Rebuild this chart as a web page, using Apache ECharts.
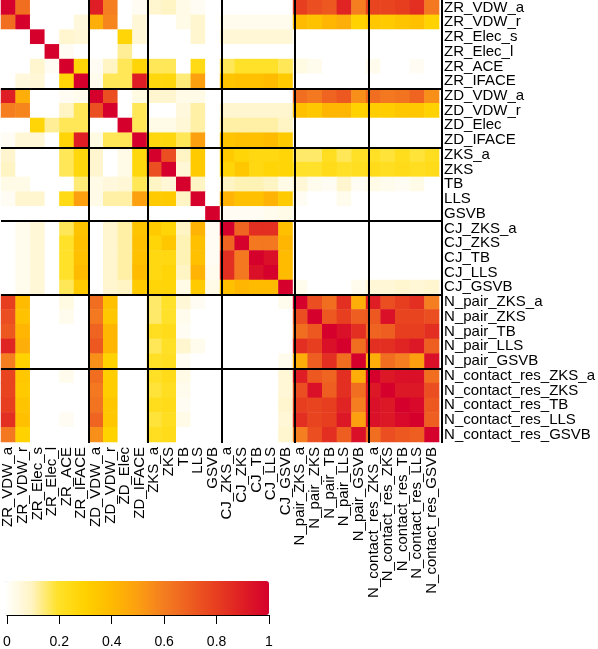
<!DOCTYPE html>
<html><head><meta charset="utf-8">
<script src="https://cdn.jsdelivr.net/npm/echarts@6/dist/echarts.min.js"></script>
<style>html,body{margin:0;padding:0;background:#fff}#c{width:598px;height:649px}</style>
</head><body><div id="c"></div>
<script>
const labels = ['ZR_VDW_a','ZR_VDW_r','ZR_Elec_s','ZR_Elec_l','ZR_ACE','ZR_IFACE','ZD_VDW_a','ZD_VDW_r','ZD_Elec','ZD_IFACE','ZKS_a','ZKS','TB','LLS','GSVB','CJ_ZKS_a','CJ_ZKS','CJ_TB','CJ_LLS','CJ_GSVB','N_pair_ZKS_a','N_pair_ZKS','N_pair_TB','N_pair_LLS','N_pair_GSVB','N_contact_res_ZKS_a','N_contact_res_ZKS','N_contact_res_TB','N_contact_res_LLS','N_contact_res_GSVB'];

const r0  = [1.00,0.65,0,0,0,0,0.90,0.60,0,0.02, 0.08,0.10,0.04,0.02,0, 0,0,0,0,0, 0.80,0.75,0.72,0.88,0.60, 0.78,0.78,0.80,0.85,0.62];
const r1  = [0.65,1.00,0,0,0,0.06,0.45,0.58,0,0.07, 0,0,0.04,0.08,0, 0.03,0.03,0.03,0.03,0.03, 0.40,0.37,0.42,0.45,0.30, 0.35,0.33,0.36,0.38,0.30];
const r2  = [0,0,1.00,0,0.08,0.07,0,0,0.28,0.07, 0,0,0,0.08,0, 0.07,0.07,0.07,0.07,0.07, 0,0,0,0,0, 0,0,0,0,0];
const r3  = [0,0,0,1.00,0.02,0,0,0,0.13,0, 0,0,0,0,0, 0,0,0,0,0, 0,0,0,0,0, 0,0,0,0,0];
const r4  = [0,0,0.08,0.02,1.00,0.28,0.02,0.10,0.17,0.28, 0.17,0.17,0,0.25,0, 0.17,0.20,0.20,0.20,0.17, 0.05,0.03,0,0,0, 0.03,0,0,0.02,0];
const r5  = [0,0.06,0.07,0,0.28,1.00,0.03,0.17,0.17,0.90, 0.27,0.27,0.15,0.50,0, 0.36,0.38,0.38,0.40,0.33, 0,0,0,0,0, 0,0,0,0,0];
const r6  = [0.90,0.45,0,0,0.02,0.03,1.00,0.75,0,0.05, 0.08,0.08,0.04,0.04,0, 0,0,0,0,0, 0.65,0.62,0.68,0.72,0.55, 0.65,0.62,0.63,0.68,0.55];
const r7  = [0.60,0.58,0,0,0.10,0.17,0.75,1.00,0,0.17, 0,0,0.06,0.12,0, 0.08,0.08,0.08,0.08,0.08, 0.38,0.35,0.42,0.42,0.30, 0.32,0.32,0.35,0.35,0.30];
const r8  = [0,0,0.28,0.13,0.17,0.17,0,0,1.00,0.17, 0.04,0.04,0.07,0.12,0, 0.12,0.12,0.12,0.12,0.10, 0,0,0,0,0, 0,0,0,0,0];
const r9  = [0.02,0.07,0.07,0,0.28,0.90,0.05,0.17,0.17,1.00, 0.27,0.27,0.17,0.50,0, 0.36,0.38,0.38,0.40,0.33, 0,0,0,0,0, 0,0,0,0,0];
const r10 = [0.08,0,0,0,0.17,0.27,0.08,0,0.04,0.27, 1.00,0.75,0.10,0.33,0, 0.33,0.28,0.26,0.26,0.28, 0.16,0.16,0.22,0.17,0.21, 0.21,0.19,0.23,0.19,0.22];
const r11 = [0.10,0,0,0,0.17,0.27,0.08,0,0.04,0.27, 0.75,1.00,0.07,0.33,0, 0.28,0.35,0.26,0.28,0.28, 0.20,0.20,0.24,0.21,0.22, 0.24,0.22,0.24,0.22,0.24];
const r12 = [0.04,0.04,0,0,0,0.15,0.04,0.06,0.07,0.17, 0.10,0.07,1.00,0.10,0, 0.10,0.11,0.11,0.10,0.04, 0.07,0.03,0.02,0.08,0.02, 0.04,0.03,0.02,0.04,0];
const r13 = [0.02,0.08,0.08,0,0.25,0.50,0.04,0.12,0.12,0.50, 0.33,0.33,0.10,1.00,0, 0.43,0.38,0.38,0.43,0.33, 0.02,0,0,0.03,0, 0,0,0,0,0];
const r14 = [0,0,0,0,0,0,0,0,0,0, 0,0,0,0,1.00, 0.02,0.02,0.02,0.03,0.04, 0,0,0,0,0, 0,0,0,0,0];
const r15 = [0,0.03,0.07,0,0.17,0.36,0,0.08,0.12,0.36, 0.33,0.28,0.10,0.43,0.02, 1.00,0.68,0.85,0.85,0.38, 0,0,0,0,0, 0,0,0,0,0];
const r16 = [0,0.03,0.07,0,0.20,0.38,0,0.08,0.12,0.38, 0.28,0.35,0.11,0.38,0.02, 0.68,1.00,0.62,0.62,0.42, 0,0,0,0,0, 0,0,0,0,0];
const r17 = [0,0.03,0.07,0,0.20,0.38,0,0.08,0.12,0.38, 0.26,0.26,0.11,0.38,0.02, 0.85,0.62,1.00,0.95,0.40, 0,0,0,0,0, 0,0,0,0,0];
const r18 = [0,0.03,0.07,0,0.20,0.40,0,0.08,0.12,0.40, 0.26,0.28,0.10,0.43,0.03, 0.85,0.62,0.95,1.00,0.40, 0,0,0,0,0, 0,0,0,0,0];
const r19 = [0,0.03,0.07,0,0.17,0.33,0,0.08,0.10,0.33, 0.28,0.28,0.04,0.33,0.04, 0.38,0.42,0.40,0.40,1.00, 0.03,0,0,0,0.03, 0.07,0.07,0.08,0.07,0.08];
const r20 = [0.80,0.40,0,0,0.05,0,0.65,0.38,0,0, 0.16,0.20,0.07,0.02,0, 0,0,0,0,0.03, 1.00,0.75,0.65,0.85,0.45, 0.90,0.75,0.80,0.85,0.60];
const r21 = [0.75,0.37,0,0,0.03,0,0.62,0.35,0,0, 0.16,0.20,0.03,0,0, 0,0,0,0,0, 0.75,1.00,0.72,0.80,0.70, 0.72,0.95,0.78,0.78,0.75];
const r22 = [0.72,0.42,0,0,0,0,0.68,0.42,0,0, 0.22,0.24,0.02,0,0, 0,0,0,0,0, 0.65,0.72,1.00,0.95,0.85, 0.68,0.70,0.80,0.80,0.85];
const r23 = [0.88,0.45,0,0,0,0,0.72,0.42,0,0, 0.17,0.21,0.08,0.03,0, 0,0,0,0,0, 0.85,0.80,0.95,1.00,0.65, 0.85,0.85,0.88,0.92,0.70];
const r24 = [0.60,0.30,0,0,0,0,0.55,0.30,0,0, 0.21,0.22,0.02,0,0, 0,0,0,0,0.03, 0.45,0.70,0.85,0.65,1.00, 0.45,0.65,0.60,0.50,0.95];
const r25 = [0.78,0.35,0,0,0.03,0,0.65,0.32,0,0, 0.21,0.24,0.04,0,0, 0,0,0,0,0.07, 0.90,0.72,0.68,0.85,0.45, 1.00,0.92,0.95,0.95,0.65];
const r26 = [0.78,0.33,0,0,0,0,0.62,0.32,0,0, 0.19,0.22,0.03,0,0, 0,0,0,0,0.07, 0.75,0.95,0.70,0.85,0.65, 0.92,1.00,0.92,0.92,0.75];
const r27 = [0.80,0.36,0,0,0,0,0.63,0.35,0,0, 0.23,0.24,0.02,0,0, 0,0,0,0,0.08, 0.80,0.78,0.80,0.88,0.60, 0.95,0.92,1.00,0.97,0.72];
const r28 = [0.85,0.38,0,0,0.02,0,0.68,0.35,0,0, 0.19,0.22,0.04,0,0, 0,0,0,0,0.07, 0.85,0.78,0.80,0.92,0.50, 0.95,0.92,0.97,1.00,0.70];
const r29 = [0.62,0.30,0,0,0,0,0.55,0.30,0,0, 0.22,0.24,0,0,0, 0,0,0,0,0.08, 0.60,0.75,0.85,0.70,0.95, 0.65,0.75,0.72,0.70,1.00];
const matrix = [r0,r1,r2,r3,r4,r5,r6,r7,r8,r9,r10,r11,r12,r13,r14,r15,r16,r17,r18,r19,r20,r21,r22,r23,r24,r25,r26,r27,r28,r29];

const groupBreaks = [6,10,15,20,25];
const colorRamp = ['#ffffff','#fff4c4','#ffe12a','#ffd200','#ffbb00','#fca010','#f47e20','#ee5e20','#e73e20','#de1e24','#d5002c'];
const FONT = '"Liberation Sans", Arial, Helvetica, sans-serif';

const heatData = [];
matrix.forEach((row, i) => row.forEach((v, j) => heatData.push([j, i, v])));

const n = labels.length;
const lineData = [];
groupBreaks.concat([n]).forEach(b => lineData.push({coords: [[b, 0], [b, n + 0.2]]}));
groupBreaks.forEach(b => lineData.push({coords: [[0, b], [n, b]]}));

const chart = echarts.init(document.getElementById('c'), null, {renderer: 'canvas'});
chart.setOption({
  animation: false,
  backgroundColor: '#ffffff',
  textStyle: {fontFamily: FONT},
  grid: [
    {left: 1, top: 0, width: 441, height: 442},
    {left: 1, top: 0, width: 441, height: 442},
    {left: 5, top: 581, width: 264, height: 35}
  ],
  xAxis: [
    {type: 'category', data: labels, gridIndex: 0, position: 'bottom',
     axisLine: {show: false}, axisTick: {show: false}, splitLine: {show: false},
     axisLabel: {rotate: 90, interval: 0, fontSize: 15, color: '#000', margin: 5, fontFamily: FONT}},
    {type: 'value', gridIndex: 1, min: 0, max: n, show: false},
    {type: 'value', gridIndex: 2, min: 0, max: 1, interval: 0.2,
     axisLine: {show: true, onZero: false, lineStyle: {color: '#000', width: 1}},
     axisTick: {show: true, length: 9, lineStyle: {color: '#000'}},
     splitLine: {show: false},
     axisLabel: {fontSize: 14, color: '#000', margin: 20, fontFamily: FONT,
                 formatter: v => String(+v.toFixed(1))}}
  ],
  yAxis: [
    {type: 'category', data: labels, gridIndex: 0, inverse: true, position: 'right',
     axisLine: {show: false}, axisTick: {show: false}, splitLine: {show: false},
     axisLabel: {interval: 0, fontSize: 15, color: '#000', margin: 5, fontFamily: FONT}},
    {type: 'value', gridIndex: 1, min: 0, max: n, inverse: true, show: false},
    {type: 'value', gridIndex: 2, min: 0, max: 1, show: false}
  ],
  visualMap: {
    type: 'continuous', min: 0, max: 1, seriesIndex: 0,
    orient: 'horizontal', left: 5, top: 581, padding: 0,
    itemWidth: 34, itemHeight: 264, calculable: false, hoverLink: false,
    inRange: {color: colorRamp}
  },
  series: [
    {type: 'heatmap', xAxisIndex: 0, yAxisIndex: 0, data: heatData,
     itemStyle: {borderWidth: 0}, emphasis: {disabled: true}},
    {type: 'lines', coordinateSystem: 'cartesian2d', xAxisIndex: 1, yAxisIndex: 1,
     polyline: false, silent: true, data: lineData,
     lineStyle: {color: '#000', width: 2, opacity: 1, curveness: 0}}
  ]
});
</script></body></html>
